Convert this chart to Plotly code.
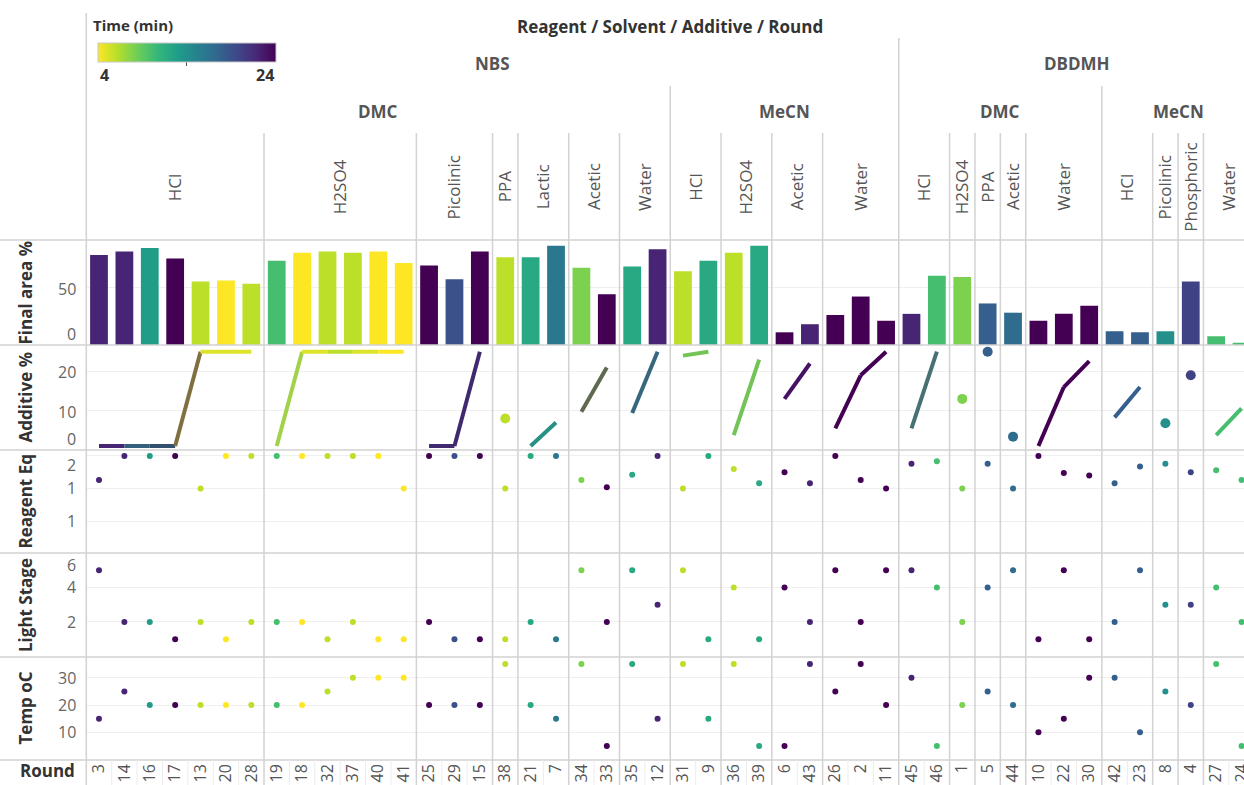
import plotly.graph_objects as go
from plotly.colors import sample_colorscale, unlabel_rgb

# ---------------- data ----------------
grp_reagent = ["NBS"] * 11 + ["DBDMH"] * 9
grp_solvent = ["DMC"] * 7 + ["MeCN"] * 4 + ["DMC"] * 5 + ["MeCN"] * 4
grp_additive = ["HCl", "H2SO4", "Picolinic", "PPA", "Lactic", "Acetic", "Water",
                "HCl", "H2SO4", "Acetic", "Water",
                "HCl", "H2SO4", "PPA", "Acetic", "Water",
                "HCl", "Picolinic", "Phosphoric", "Water"]
grp_size = [7, 6, 3, 1, 2, 2, 2, 2, 2, 2, 3, 2, 1, 1, 1, 3, 2, 1, 1, 2]

rounds = [3, 14, 16, 17, 13, 20, 28, 19, 18, 32, 37, 40, 41, 25, 29, 15, 38, 21, 7, 34, 33,
          35, 12, 31, 9, 36, 39, 6, 43, 26, 2, 11, 45, 46, 1, 5, 44, 10, 22, 30, 42, 23, 8, 4, 27, 24]
time_min = [22, 22, 13, 24, 6, 4, 6, 10, 4, 6, 6, 4, 4, 24, 19, 24, 6, 12, 16, 8, 24,
            12, 22, 6, 12, 6, 12, 24, 22, 24, 24, 24, 22, 10, 8, 18, 17, 24, 24, 24, 18, 18, 14, 20, 10, 10]
final_area = [78, 81, 84, 75, 55, 56, 53, 73, 80, 81, 80, 81, 71, 69, 57, 81, 76, 76, 86, 67, 44,
              68, 83, 64, 73, 80, 86, 11, 18, 26, 42, 21, 27, 60, 59, 36, 28, 21, 27, 34, 12, 11, 12, 55, 7.5, 2]
additive_pct = [1, 1, 1, 1, 25, 25, 25, 1, 25, 25, 25, 25, 25, 1, 1, 25, 8, 1, 7, 9.7, 21,
                9.4, 25, 24, 25, 3.8, 23, 13, 22, 5.5, 19, 25, 5.5, 25, 13, 25, 3.4, 1, 16, 22.6, 8.3, 16, 6.8, 19, 3.8, 10.6]
reagent_eq = [1.63, 2, 2, 2, 1.5, 2, 2, 2, 2, 2, 2, 2, 1.5, 2, 2, 2, 1.5, 2, 2, 1.63, 1.52,
              1.71, 2, 1.5, 2, 1.8, 1.58, 1.75, 1.58, 2, 1.63, 1.5, 1.88, 1.92, 1.5, 1.88, 1.5, 2, 1.74, 1.7, 1.58, 1.84, 1.88, 1.75, 1.78, 1.63]
light_stage = [5, 2, 2, 1, 2, 1, 2, 2, 2, 1, 2, 1, 1, 2, 1, 1, 1, 2, 1, 5, 2,
               5, 3, 5, 1, 4, 1, 4, 2, 5, 2, 5, 5, 4, 2, 4, 5, 1, 5, 1, 2, 5, 3, 3, 4, 2]
temp_c = [15, 25, 20, 20, 20, 20, 20, 20, 20, 25, 30, 30, 30, 20, 20, 20, 35, 20, 15, 35, 5,
          35, 15, 35, 15, 35, 5, 5, 35, 25, 35, 20, 30, 5, 20, 25, 20, 10, 15, 30, 30, 10, 25, 20, 35, 5]
time_range = [4, 24]

# ---------------- layout constants ----------------
W, H = 1244, 785
PLOT_LEFT = 86.3
COL_W = 25.39
FONT = "Open Sans"
SEP = "#d2d2d2"
CB_LEFT, CB_RIGHT, CB_TOP = 97.7, 276.0, 43.0


def fy(px):
    return 1 - px / H


def fx(px):
    return px / W


n = len(rounds)
xs = list(range(n))
starts = []
s = 0
for k in grp_size:
    starts.append(s)
    s += k

# (value, label, yshift in px)
panels = [
    dict(name="yaxis", ref="y", title="Final area %", top=240, bot=345, rng=[0, 91],
         ticks=[(0, "0", 11), (50, "50", -2)]),
    dict(name="yaxis2", ref="y2", title="Additive %", top=345, bot=450, rng=[0, 26.7],
         ticks=[(0, "0", 11), (10, "10", -1), (20, "20", -1)]),
    dict(name="yaxis3", ref="y3", title="Reagent Eq", top=450, bot=553, rng=[0.508, 2.092],
         ticks=[(1, "1", 0), (1.5, "1", 0), (2, "2", -9)]),
    dict(name="yaxis4", ref="y4", title="Light Stage", top=553, bot=657, rng=[-0.03, 6.0],
         ticks=[(2, "2", 0), (4, "4", 0), (6, "6", -12)]),
    dict(name="yaxis5", ref="y5", title="Temp oC", top=657, bot=760, rng=[-0.15, 37.6],
         ticks=[(10, "10", 0), (20, "20", 0), (30, "30", 0)]),
]

fig = go.Figure()

# bars
fig.add_trace(go.Bar(x=xs, y=final_area, width=0.7,
                     marker=dict(color=time_min, coloraxis="coloraxis", line=dict(width=0)),
                     xaxis="x", yaxis="y", hoverinfo="skip", showlegend=False))


def rgb_of(t):
    return unlabel_rgb(sample_colorscale("Viridis", [(time_range[1] - t) / (time_range[1] - time_range[0])])[0])


# additive lines / points
for g, k in enumerate(grp_size):
    cols = list(range(starts[g], starts[g] + k))
    if k == 1:
        fig.add_trace(go.Scatter(x=cols, y=[additive_pct[c] for c in cols], mode="markers",
                                 marker=dict(size=10, color=[time_min[c] for c in cols], coloraxis="coloraxis"),
                                 xaxis="x", yaxis="y2", hoverinfo="skip", showlegend=False))
    else:
        for a, b in zip(cols[:-1], cols[1:]):
            ca, cb = rgb_of(time_min[a]), rgb_of(time_min[b])
            col = "rgb(%d,%d,%d)" % tuple(round((u + v) / 2) for u, v in zip(ca, cb))
            fig.add_trace(go.Scatter(x=[a, b], y=[additive_pct[a], additive_pct[b]], mode="lines",
                                     line=dict(color=col, width=4),
                                     xaxis="x", yaxis="y2", hoverinfo="skip", showlegend=False))

for vals, ax in [(reagent_eq, "y3"), (light_stage, "y4"), (temp_c, "y5")]:
    fig.add_trace(go.Scatter(x=xs, y=vals, mode="markers",
                             marker=dict(size=6, color=time_min, coloraxis="coloraxis"),
                             xaxis="x", yaxis=ax, hoverinfo="skip", showlegend=False))

layout = dict(
    width=W, height=H, autosize=False,
    margin=dict(l=0, r=0, t=0, b=0, pad=0),
    paper_bgcolor="white", plot_bgcolor="white",
    font=dict(family=FONT, color="#555"),
    bargap=0.3,
    xaxis=dict(domain=[fx(PLOT_LEFT), 1], range=[-0.5, -0.5 + (W - PLOT_LEFT) / COL_W],
               anchor="y5", tickmode="array", tickvals=xs, ticktext=[str(r) for r in rounds],
               tickangle=-90, tickfont=dict(size=16, color="#555", family=FONT),
               ticklabeloverflow="allow",
               showgrid=False, zeroline=False, showline=False, ticks="", automargin=False),
    coloraxis=dict(
        colorscale="Viridis", reversescale=True, cmin=time_range[0], cmax=time_range[1],
        colorbar=dict(orientation="h", x=fx(CB_LEFT), xanchor="left", y=fy(CB_TOP), yanchor="top",
                      len=CB_RIGHT - CB_LEFT, lenmode="pixels", thickness=19, thicknessmode="pixels",
                      outlinecolor="#c8c8c8", outlinewidth=1, xpad=0, ypad=0,
                      tickvals=[sum(time_range) / 2], ticktext=[""],
                      ticks="outside", ticklen=4, tickcolor="#555", showticklabels=False),
    ),
)

annotations = []
shapes = []

# colorbar title and end labels
annotations.append(dict(x=fx(CB_LEFT - 7), xref="paper", xanchor="left", y=fy(25), yref="paper",
                        yanchor="middle", text="<b>Time (min)</b>", showarrow=False,
                        font=dict(size=15, color="#333", family=FONT)))
annotations.append(dict(x=fx(CB_LEFT), xref="paper", xanchor="left", y=fy(75), yref="paper",
                        yanchor="middle", text="<b>%d</b>" % time_range[0], showarrow=False,
                        font=dict(size=16, color="#333", family=FONT)))
annotations.append(dict(x=fx(CB_RIGHT), xref="paper", xanchor="right", y=fy(75), yref="paper",
                        yanchor="middle", text="<b>%d</b>" % time_range[1], showarrow=False,
                        font=dict(size=16, color="#333", family=FONT)))

for p in panels:
    layout[p["name"]] = dict(domain=[fy(p["bot"]), fy(p["top"])], range=p["rng"], anchor="x",
                             tickmode="array", tickvals=[t[0] for t in p["ticks"]],
                             showticklabels=False, ticks="", showgrid=True, gridcolor="#efefef",
                             gridwidth=1, zeroline=False, showline=False, automargin=False)
    for val, txt, sh in p["ticks"]:
        annotations.append(dict(x=fx(78), xref="paper", xanchor="right", y=val, yref=p["ref"],
                                yanchor="middle", yshift=sh, text=txt, showarrow=False,
                                font=dict(size=16, color="#666", family=FONT)))
    annotations.append(dict(x=fx(25), xref="paper", xanchor="center",
                            y=fy((p["top"] + p["bot"]) / 2), yref="paper", yanchor="middle",
                            text="<b>%s</b>" % p["title"], textangle=-90, showarrow=False,
                            font=dict(size=17, color="#333", family=FONT)))

annotations.append(dict(x=fx(18), xref="paper", xanchor="left", y=fy(770), yref="paper",
                        yanchor="middle", text="<b>Round</b>", showarrow=False,
                        font=dict(size=17, color="#333", family=FONT)))

# header labels
annotations.append(dict(x=(n - 1) / 2, xref="x", y=fy(27), yref="paper", yanchor="middle",
                        text="<b>Reagent / Solvent / Additive / Round</b>", showarrow=False,
                        font=dict(size=17, color="#333", family=FONT)))


def spans(keys):
    out = []
    for g, key in enumerate(keys):
        if out and out[-1][0] == key and out[-1][2] == g - 1:
            out[-1][2] = g
        else:
            out.append([key, g, g])
    return out


solvent_keys = [r + "|" + sv for r, sv in zip(grp_reagent, grp_solvent)]
for key, g0, g1 in spans(grp_reagent):
    c0, c1 = starts[g0], starts[g1] + grp_size[g1] - 1
    annotations.append(dict(x=(c0 + c1) / 2, xref="x", y=fy(63.5), yref="paper", yanchor="middle",
                            text="<b>%s</b>" % key, showarrow=False,
                            font=dict(size=17, color="#555", family=FONT)))
for key, g0, g1 in spans(solvent_keys):
    c0, c1 = starts[g0], starts[g1] + grp_size[g1] - 1
    annotations.append(dict(x=(c0 + c1) / 2, xref="x", y=fy(111.5), yref="paper", yanchor="middle",
                            text="<b>%s</b>" % key.split("|")[1], showarrow=False,
                            font=dict(size=17, color="#555", family=FONT)))
for g, add in enumerate(grp_additive):
    c0, c1 = starts[g], starts[g] + grp_size[g] - 1
    annotations.append(dict(x=(c0 + c1) / 2, xref="x", y=fy(187), yref="paper", yanchor="middle",
                            text=add, textangle=-90, showarrow=False,
                            font=dict(size=17, color="#555", family=FONT)))

# separators
for py_ in [240, 345, 450, 553, 657, 760]:
    shapes.append(dict(type="line", xref="paper", yref="paper", x0=0, x1=1, y0=fy(py_), y1=fy(py_),
                       line=dict(color=SEP, width=1.5)))
shapes.append(dict(type="line", xref="paper", yref="paper", x0=fx(PLOT_LEFT), x1=fx(PLOT_LEFT),
                   y0=fy(13), y1=0, line=dict(color=SEP, width=1.5)))
group_starts = set(starts[1:])
for g in range(1, len(grp_size)):
    if grp_reagent[g] != grp_reagent[g - 1]:
        top = 38
    elif grp_solvent[g] != grp_solvent[g - 1]:
        top = 86
    else:
        top = 133
    xb = starts[g] - 0.5
    shapes.append(dict(type="line", xref="x", yref="paper", x0=xb, x1=xb, y0=fy(top), y1=0,
                       line=dict(color=SEP, width=1.5)))
for c in range(1, n):
    if c not in group_starts:
        shapes.append(dict(type="line", xref="x", yref="paper", x0=c - 0.5, x1=c - 0.5,
                           y0=fy(760), y1=0, line=dict(color="#ececec", width=1)))

layout["annotations"] = annotations
layout["shapes"] = shapes
fig.update_layout(**layout)
fig.write_html("out.html", config={"displayModeBar": False, "staticPlot": False},
               post_script="document.body.style.margin='0px';document.body.style.overflow='hidden';")
